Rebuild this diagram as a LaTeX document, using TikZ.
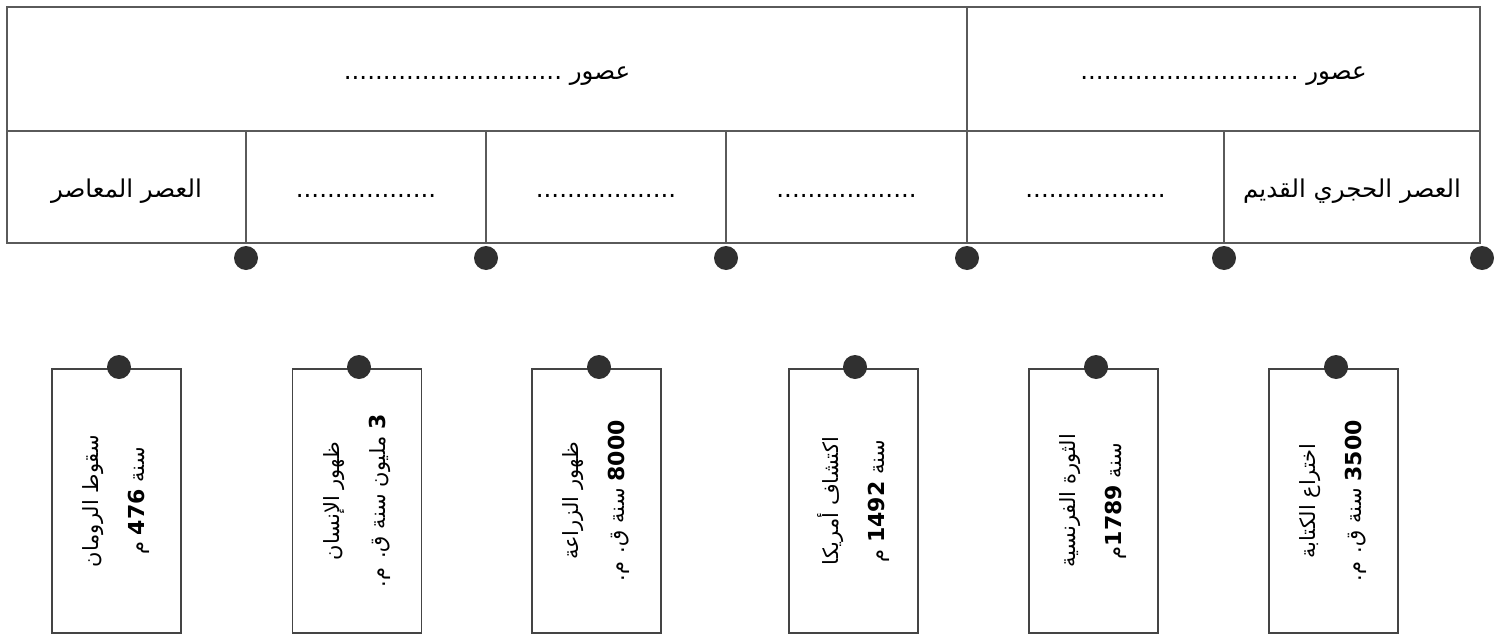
\documentclass[tikz,border=0pt]{standalone}
\usepackage{fontspec}
\setmainfont{DejaVu Sans}
\newfontfamily\arabicfont[Script=Arabic]{DejaVu Sans}
\TeXXeTstate=1
\definecolor{tline}{HTML}{5A5A5A}
\definecolor{bline}{HTML}{444444}
\definecolor{dotc}{HTML}{303030}
\tikzset{
  cell/.style={draw=tline, line width=1.4pt, rectangle, inner sep=0pt,
    text height=28pt, text depth=7pt,
    font=\arabicfont\fontsize{24.5}{28}\selectfont},
  pin/.style={circle, fill=dotc, minimum size=24pt, inner sep=0pt},
  event/.style={draw=bline, line width=1.8pt, rectangle, inner sep=0pt,
    minimum width=129pt, minimum height=264pt},
  evtext/.style={rotate=90, align=center, inner sep=0pt,
    font=\arabicfont\fontsize{21}{46}\selectfont}
}
\newcommand{\nb}[1]{{\fontsize{22}{46}\selectfont\bfseries\beginL #1\endL{}}}
\begin{document}
\begin{tikzpicture}[x=1pt,y=-1pt]
\useasboundingbox (0,0) rectangle (1502,637);
% top row
\node[cell, minimum width=960pt, minimum height=124pt] (ageL) at (487,69)
  {\beginR عصور ............................\endR};
\node[cell, minimum width=513pt, minimum height=124pt] (ageR) at (1223.5,69)
  {\beginR عصور ............................\endR};
% bottom row
\node[cell, minimum width=239pt, minimum height=112pt] (c1) at (126.5,187)
  {\beginR العصر المعاصر\endR};
\node[cell, minimum width=240pt, minimum height=112pt] (c2) at (366,187)
  {\beginR ..................\endR};
\node[cell, minimum width=240pt, minimum height=112pt] (c3) at (606,187)
  {\beginR ..................\endR};
\node[cell, minimum width=241pt, minimum height=112pt] (c4) at (846.5,187)
  {\beginR ..................\endR};
\node[cell, minimum width=257pt, minimum height=112pt] (c5) at (1095.5,187)
  {\beginR ..................\endR};
\node[cell, minimum width=256pt, minimum height=112pt] (c6) at (1352,187)
  {\beginR العصر الحجري القديم\endR};
% timeline dots
\node[pin] (t1) at (246,258) {};
\node[pin] (t2) at (486,258) {};
\node[pin] (t3) at (726,258) {};
\node[pin] (t4) at (967,258) {};
\node[pin] (t5) at (1224,258) {};
\node[pin] (t6) at (1482,258) {};
% event boxes
\node[event] (e1) at (116.5,501) {};
\node[event] (e2) at (357,501) {};
\node[event] (e3) at (596.5,501) {};
\node[event] (e4) at (853.5,501) {};
\node[event] (e5) at (1093.5,501) {};
\node[event] (e6) at (1333.5,501) {};
\node[evtext] (x1) at (e1) {\beginR سقوط الرومان\endR\\\beginR سنة \nb{476} م\endR};
\node[evtext] (x2) at (e2) {\beginR ظهور الإنسان\endR\\\beginR\nb{3} مليون سنة ق. م.\endR};
\node[evtext] (x3) at (e3) {\beginR ظهور الزراعة\endR\\\beginR\nb{8000} سنة ق. م.\endR};
\node[evtext] (x4) at (e4) {\beginR اكتشاف أمريكا\endR\\\beginR سنة \nb{1492} م\endR};
\node[evtext] (x5) at (e5) {\beginR الثورة الفرنسية\endR\\\beginR سنة \nb{1789}م\endR};
\node[evtext] (x6) at (e6) {\beginR اختراع الكتابة\endR\\\beginR\nb{3500} سنة ق. م.\endR};
% event pins
\node[pin] (p1) at (119,367) {};
\node[pin] (p2) at (359,367) {};
\node[pin] (p3) at (599,367) {};
\node[pin] (p4) at (855,367) {};
\node[pin] (p5) at (1096,367) {};
\node[pin] (p6) at (1336,367) {};
\end{tikzpicture}
\end{document}
